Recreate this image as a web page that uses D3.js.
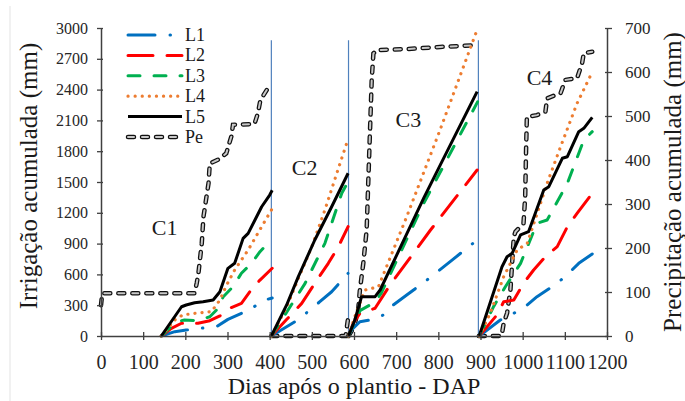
<!DOCTYPE html>
<html>
<head>
<meta charset="utf-8">
<script src="https://cdn.jsdelivr.net/npm/d3@7"></script>
<style>
  body { margin: 0; background: #fff; }
  svg text { font-family: "Liberation Serif", "Times New Roman", Tinos, "DejaVu Serif", serif; }
</style>
</head>
<body>
<div id="chart"></div>
<script>
// Irrigação acumulada (mm) por lâmina, um array por ciclo: [DAP, mm]
const L1 = [
    [[143,0],[175,42],[202,58],[236,75],[274,91],[301,162],[333,221],[357,270],[389,351],[406,370]],
    [[404,0],[460,139],[491,237],[519,334],[547,431],[586,611]],
    [[587,0],[594,58],[614,139],[638,156],[670,205],[693,302],[725,399],[773,545],[828,724],[892,935]],
    [[897,0],[947,156],[979,221],[1006,286],[1034,383],[1082,513],[1109,611],[1133,708],[1165,799]]
];
const L2 = [
    [[143,0],[167,75],[191,124],[230,124],[258,149],[282,195],[305,270],[333,318],[353,431],[377,545],[406,660]],
    [[404,0],[440,160],[476,318],[507,513],[539,708],[563,870],[586,1065]],
    [[587,0],[598,124],[614,221],[650,270],[686,500],[781,1030],[892,1617]],
    [[897,0],[939,205],[955,334],[979,350],[1002,513],[1026,643],[1054,773],[1082,870],[1106,1065],[1129,1195],[1165,1390]]
];
const L3 = [
    [[143,0],[179,139],[198,156],[222,150],[238,162],[258,188],[274,253],[290,383],[313,480],[333,611],[357,708],[377,821],[396,903],[406,950]],
    [[404,0],[440,230],[484,513],[531,903],[571,1390],[586,1503]],
    [[587,0],[600,130],[615,250],[650,330],[665,420],[765,1290],[805,1600],[893,2280]],
    [[897,0],[931,286],[959,480],[995,708],[1034,1098],[1058,1130],[1106,1487],[1145,1909],[1165,1990]]
];
const L4 = [
    [[143,0],[175,156],[194,205],[222,221],[262,237],[282,351],[298,497],[317,643],[349,838],[381,1065],[406,1240]],
    [[404,0],[440,280],[468,560],[500,870],[531,1227],[567,1682],[584,1893]],
    [[587,0],[602,188],[626,448],[658,480],[725,1162],[804,2006],[890,2960]],
    [[897,0],[923,221],[955,578],[987,838],[1011,903],[1058,1487],[1090,1844],[1129,2266],[1165,2571]]
];
const L5 = [
    [[143,0],[191,285],[202,302],[222,324],[242,334],[266,351],[282,431],[301,659],[317,708],[337,951],[349,1000],[381,1259],[400,1373],[406,1420]],
    [[404,0],[440,300],[468,578],[507,935],[547,1259],[586,1585]],
    [[587,0],[602,156],[618,383],[650,383],[662,448],[765,1340],[805,1670],[892,2380]],
    [[897,0],[951,675],[963,772],[975,805],[995,984],[1014,1016],[1050,1422],[1062,1454],[1094,1731],[1106,1746],[1133,1990],[1145,2023],[1165,2130]]
];
// Precipitação acumulada (mm), eixo da direita
const Pe = [
    [[0,70],[3,97],[222,97],[227,120],[231,142],[239,211],[243,271],[255,347],[258,392],[278,401],[297,415],[309,453],[313,480],[364,482],[372,506],[378,536],[393,559],[400,566]],
    [[404,0],[580,0],[586,40]],
    [[587,0],[600,20],[610,60],[614,105],[622,165],[630,241],[634,355],[638,468],[642,582],[646,642],[654,650],[725,652],[804,657],[892,661]],
    [[896,0],[950,0],[955,29],[963,52],[971,105],[975,165],[979,226],[983,237],[1002,256],[1006,317],[1008,420],[1010,498],[1034,502],[1054,510],[1058,540],[1090,552],[1101,582],[1129,586],[1141,620],[1145,643],[1165,646]]
];
const cycleEnds = [404, 587, 895];
const cycleLabels = [
    { text: 'C1', dap: 151, mm: 984 },
    { text: 'C2', dap: 483, mm: 1568 },
    { text: 'C3', dap: 729, mm: 2039 },
    { text: 'C4', dap: 1040, mm: 2445 }
];
const xTicks = d3.range(0, 1201, 100);
const yTicks = d3.range(0, 3001, 300);
const y2Ticks = d3.range(0, 701, 100);

const width = 685, height = 401;
const margin = { top: 28, right: 78, bottom: 65, left: 101 };
const serif = '"Liberation Serif", "Times New Roman", Tinos, "DejaVu Serif", serif';

const svg = d3.select('#chart').append('svg')
    .attr('width', width)
    .attr('height', height);

const x = d3.scaleLinear().domain([0, 1200]).range([margin.left, width - margin.right]);
const y = d3.scaleLinear().domain([0, 3000]).range([height - margin.bottom, margin.top]);
const y2 = d3.scaleLinear().domain([0, 700]).range([height - margin.bottom, margin.top]);

// faint frame line on the left
svg.append('line')
    .attr('x1', 10).attr('x2', 10).attr('y1', 6).attr('y2', height)
    .attr('stroke', '#e3e3e3').attr('stroke-width', 1);

// cycle separators
svg.selectAll('.sep')
    .data(cycleEnds)
    .join('line')
    .attr('x1', d => x(d)).attr('x2', d => x(d))
    .attr('y1', y(0)).attr('y2', y(2880))
    .attr('stroke', '#4f81bd').attr('stroke-width', 1.2);

const line = d3.line().x(d => x(d[0])).y(d => y(d[1]));
const line2 = d3.line().x(d => x(d[0])).y(d => y2(d[1]));

const styles = [
    { name: 'L1', data: L1, color: '#0070c0', width: 3, dash: '27,15,0.5,15' },
    { name: 'L2', data: L2, color: '#ff0000', width: 3, dash: '25,14' },
    { name: 'L3', data: L3, color: '#00b050', width: 3, dash: '12,14' },
    { name: 'L4', data: L4, color: '#ed7d31', width: 3.2, dash: '0.1,7' },
    { name: 'L5', data: L5, color: '#000000', width: 3, dash: null }
];

// precipitation: outlined capsule dashes
function drawPe(g, path) {
    g.append('path').attr('d', path)
        .attr('fill', 'none').attr('stroke', '#111').attr('stroke-width', 4.5)
        .attr('stroke-linecap', 'round').attr('stroke-dasharray', '6,8');
    g.append('path').attr('d', path)
        .attr('fill', 'none').attr('stroke', '#c8c8c8').attr('stroke-width', 2)
        .attr('stroke-linecap', 'round').attr('stroke-dasharray', '6,8');
}

const gPe = svg.append('g');
Pe.forEach(c => drawPe(gPe, line2(c)));

styles.forEach(s => {
    svg.append('g').selectAll('path')
        .data(s.data)
        .join('path')
        .attr('d', line)
        .attr('fill', 'none')
        .attr('stroke', s.color)
        .attr('stroke-width', s.width)
        .attr('stroke-linejoin', 'round')
        .attr('stroke-linecap', s.dash ? 'round' : 'butt')
        .attr('stroke-dasharray', s.dash);
});

// axes
const axisColor = '#404040';
const fmt = d3.format('d');
const xAxis = svg.append('g')
    .attr('transform', `translate(0,${y(0)})`)
    .call(d3.axisBottom(x).tickValues(xTicks).tickFormat(fmt).tickSize(0).tickPadding(19));
const yAxis = svg.append('g')
    .attr('transform', `translate(${margin.left},0)`)
    .call(d3.axisLeft(y).tickValues(yTicks).tickFormat(fmt).tickSize(0).tickPadding(13));
const y2Axis = svg.append('g')
    .attr('transform', `translate(${width - margin.right},0)`)
    .call(d3.axisRight(y2).tickValues(y2Ticks).tickFormat(fmt).tickSize(0).tickPadding(18));

[xAxis, yAxis, y2Axis].forEach(a => {
    a.attr('font-family', serif);
    a.select('.domain').attr('stroke', axisColor).attr('stroke-width', 1.5);
    a.selectAll('text').attr('fill', '#262626').attr('font-size', 16);
});
xAxis.selectAll('text').attr('font-size', 20);
y2Axis.selectAll('text').attr('font-size', 17);

// cross tick marks
xAxis.selectAll('.tick').append('line')
    .attr('y1', -4).attr('y2', 4).attr('stroke', axisColor).attr('stroke-width', 1.3);
yAxis.selectAll('.tick').append('line')
    .attr('x1', -4).attr('x2', 2).attr('stroke', axisColor).attr('stroke-width', 1.3);
y2Axis.selectAll('.tick').append('line')
    .attr('x1', -2).attr('x2', 5).attr('stroke', axisColor).attr('stroke-width', 1.3);

// axis titles
svg.append('text')
    .attr('transform', `translate(37,176) rotate(-90)`)
    .attr('text-anchor', 'middle')
    .attr('font-size', 25).attr('fill', '#1a1a1a')
    .text('Irrigação acumulada (mm)');
svg.append('text')
    .attr('transform', `translate(681,182) rotate(-90)`)
    .attr('text-anchor', 'middle')
    .attr('font-size', 25).attr('fill', '#1a1a1a')
    .text('Precipitação acumulada (mm)');
svg.append('text')
    .attr('x', 354).attr('y', 394)
    .attr('text-anchor', 'middle')
    .attr('font-size', 24).attr('fill', '#1a1a1a')
    .text('Dias após o plantio - DAP');

// cycle labels
svg.selectAll('.clab')
    .data(cycleLabels)
    .join('text')
    .attr('x', d => x(d.dap)).attr('y', d => y(d.mm))
    .attr('text-anchor', 'middle')
    .attr('font-size', 22).attr('fill', '#1a1a1a')
    .text(d => d.text);

// legend
const legendRows = styles.map(s => s.name).concat(['Pe']);
const legend = svg.append('g').attr('transform', 'translate(128,35)');
legendRows.forEach((name, i) => {
    const row = legend.append('g').attr('transform', `translate(0,${i * 20.4})`);
    const p = `M0,0L54,0`;
    if (name === 'Pe') {
        drawPe(row, p);
    } else {
        const s = styles[i];
        row.append('path').attr('d', p)
            .attr('stroke', s.color).attr('stroke-width', s.width)
            .attr('stroke-linecap', s.dash ? 'round' : 'butt')
            .attr('stroke-dasharray', s.dash);
    }
    row.append('text').attr('x', 57).attr('y', 6)
        .attr('font-size', 18).attr('fill', '#1a1a1a')
        .text(name);
});
</script>
</body>
</html>
